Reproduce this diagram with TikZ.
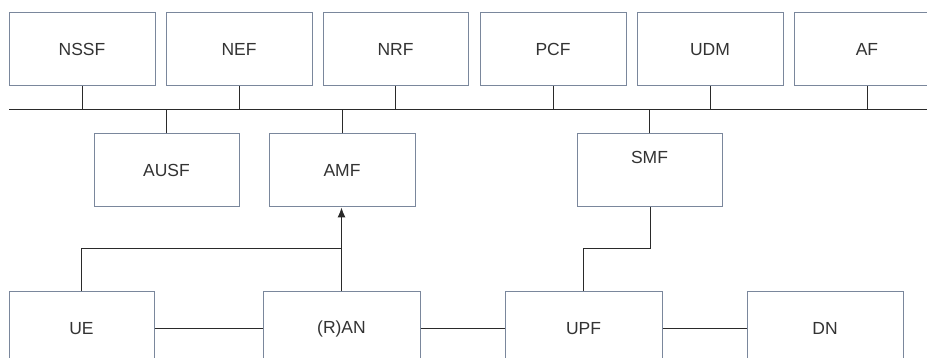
\documentclass[tikz,border=0pt]{standalone}
\usepackage{fontspec}
\setmainfont{Liberation Sans}
\usetikzlibrary{arrows.meta}
\definecolor{boxline}{HTML}{7A879C}
\definecolor{labeltext}{HTML}{333333}
\definecolor{wire}{HTML}{2A2A2A}
\begin{document}
\begin{tikzpicture}[x=1pt,y=-1pt,
  nf/.style={draw=boxline,line width=1pt,fill=white,minimum height=73pt,
    minimum width=146pt,inner sep=0pt,text=labeltext,
    font=\fontsize{17.5}{20}\selectfont},
  lbl/.style={inner sep=0pt,text=labeltext,font=\fontsize{17.5}{20}\selectfont},
  link/.style={draw=wire,line width=1pt}]
\useasboundingbox (0,0) rectangle (927,358);
\clip (0,0) rectangle (927,358);

% service bus
\coordinate (busL) at (9,110);
\coordinate (busR) at (940,110);
\draw[link] (busL) -- (busR);

% top row of network functions
\node[nf] (nssf) at (82,49.5) {NSSF};
\node[nf] (nef)  at (239,49.5) {NEF};
\node[nf,minimum width=145pt] (nrf)  at (395.5,49.5) {NRF};
\node[nf] (pcf)  at (553,49.5) {PCF};
\node[nf] (udm)  at (710,49.5) {UDM};
\node[nf] (af)   at (867,49.5) {AF};

% middle row
\node[nf,minimum width=145pt] (ausf) at (166.5,170.5) {AUSF};
\node[nf] (amf)  at (342,170.5) {AMF};
\node[nf,minimum width=145pt] (smf)  at (649.5,170.5) {};
\node[lbl] at ([yshift=13pt]smf.center) {SMF};

% bottom row
\node[nf,minimum width=145pt] (ue)  at (81.5,328.5) {UE};
\node[nf,minimum width=157pt] (ran) at (341.5,328.5) {(R)AN};
\node[nf,minimum width=157pt] (upf) at (583.5,328.5) {UPF};
\node[nf,minimum width=156pt] (dn)  at (825,328.5) {DN};

% bus attachments
\foreach \n in {nssf,nef,nrf,pcf,udm,af}
  \draw[link] (\n.south) -- (\n.south |- busL);
\foreach \n in {ausf,amf,smf}
  \draw[link] (\n.north) -- (\n.north |- busL);

% access and user plane links
\draw[link] (ue.east) -- (ran.west);
\draw[link] (ran.east) -- (upf.west);
\draw[link] (upf.east) -- (dn.west);

% N1 / N2 towards AMF
\coordinate (n1mid) at (341.5,249);
\draw[link] (ue.north) -- (ue.north |- n1mid) -- (n1mid);
\draw[link,-{Latex[length=10pt,width=8pt]}] (ran.north) -- (ran.north |- amf.south);

% N4 between SMF and UPF
\coordinate (n4mid) at (0,249);
\draw[link] ([xshift=0.5pt]smf.south) -- ([xshift=0.5pt]smf.south |- n4mid) -| (upf.north);
\end{tikzpicture}
\end{document}
